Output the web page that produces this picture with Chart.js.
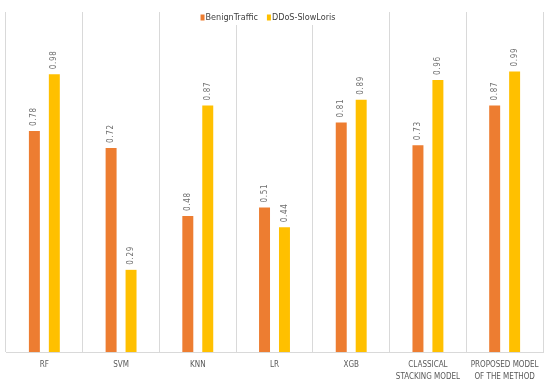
<!DOCTYPE html>
<html>
<head>
<meta charset="utf-8">
<script src="https://cdn.jsdelivr.net/npm/chart.js@4"></script>
<style>
  body { margin: 0; background: #fff; }
  #wrap { width: 550px; height: 386px; }
</style>
</head>
<body>
<div id="wrap"><canvas id="chart"></canvas></div>
<script>
const categories = [
  "RF", "SVM", "KNN", "LR", "XGB",
  ["CLASSICAL", "STACKING MODEL"],
  ["PROPOSED MODEL", "OF THE METHOD"]
];
const seriesNames = ["BenignTraffic", "DDoS-SlowLoris"];
const benignValues = [0.78, 0.72, 0.48, 0.51, 0.81, 0.73, 0.87];
const slowLorisValues = [0.98, 0.29, 0.87, 0.44, 0.89, 0.96, 0.99];
const colors = ["#ED7D31", "#FFC000"];

const FONT = "'Liberation Sans Narrow', 'DejaVu Sans Condensed', sans-serif";

// value labels, rotated, above each bar
const barLabels = {
  id: "barLabels",
  afterDatasetsDraw(chart) {
    const ctx = chart.ctx;
    ctx.save();
    ctx.font = "8px " + FONT;
    ctx.fillStyle = "#6f6f6f";
    ctx.textAlign = "left";
    ctx.textBaseline = "middle";
    chart.data.datasets.forEach((ds, i) => {
      chart.getDatasetMeta(i).data.forEach((bar, j) => {
        ctx.save();
        ctx.translate(bar.x, bar.y - 5);
        ctx.rotate(-Math.PI / 2);
        ctx.fillText(ds.data[j].toFixed(2).split("").join(String.fromCharCode(8202)), 0, 0);
        ctx.restore();
      });
    });
    ctx.restore();
  }
};

// small legend inside the top of the plot, on a white box
const topLegend = {
  id: "topLegend",
  afterDraw(chart) {
    const ctx = chart.ctx;
    ctx.save();
    ctx.font = "9px " + FONT;
    ctx.textBaseline = "middle";
    const y = 17.5;
    const widths = chart.data.datasets.map(ds => 5 + ctx.measureText(ds.label).width);
    const gap = 9;
    const total = widths.reduce((a, b) => a + b, 0) + gap;
    let x = 268 - total / 2;
    ctx.fillStyle = "#fff";
    ctx.fillRect(x - 4, 11, total + 8, 14);
    chart.data.datasets.forEach((ds, i) => {
      ctx.fillStyle = ds.backgroundColor;
      ctx.fillRect(x, y - 3, 4, 6);
      ctx.fillStyle = "#404040";
      ctx.fillText(ds.label, x + 5, y);
      x += widths[i] + gap;
    });
    ctx.restore();
  }
};

new Chart(document.getElementById("chart"), {
  type: "bar",
  data: {
    labels: categories,
    datasets: [
      { label: seriesNames[0], data: benignValues, backgroundColor: colors[0] },
      { label: seriesNames[1], data: slowLorisValues, backgroundColor: colors[1] }
    ]
  },
  options: {
    responsive: true,
    maintainAspectRatio: false,
    animation: false,
    layout: { padding: { left: 6, right: 7, top: 12, bottom: 0 } },
    datasets: {
      bar: { categoryPercentage: 0.52, barPercentage: 0.55 }
    },
    plugins: {
      legend: { display: false },
      tooltip: { enabled: false }
    },
    scales: {
      x: {
        afterFit(scale) { scale.height = 34; },
        grid: { color: "#d9d9d9", drawTicks: false, offset: true },
        border: { color: "#d9d9d9" },
        ticks: {
          color: "#595959",
          padding: 7,
          maxRotation: 0,
          autoSkip: false,
          font: { family: FONT, size: 8, lineHeight: 1.5 }
        }
      },
      y: {
        display: false,
        min: 0,
        max: 1.2
      }
    }
  },
  plugins: [barLabels, topLegend]
});
</script>
</body>
</html>
